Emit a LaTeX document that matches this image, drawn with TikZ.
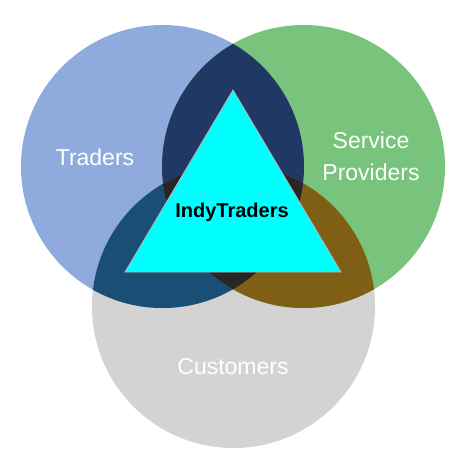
\documentclass[tikz,border=0pt]{standalone}
\usepackage{fontspec}
\setmainfont{Liberation Sans}
\definecolor{trblue}{HTML}{8FAADC}
\definecolor{spgreen}{HTML}{78C47C}
\definecolor{cugrey}{HTML}{D3D3D3}
\definecolor{tsnavy}{HTML}{203864}
\definecolor{tcblue}{HTML}{1B4E75}
\definecolor{scbrown}{HTML}{7F5F14}
\definecolor{allgrey}{HTML}{262626}
\definecolor{tricyan}{HTML}{00FFFF}
\definecolor{triedge}{HTML}{B4B4B4}
\tikzset{
  lbl/.style={text=white, font=\fontsize{23}{32}\selectfont, align=center, inner sep=0pt},
  core/.style={text=black, font=\bfseries\fontsize{20}{24}\selectfont, inner sep=0pt},
  rad/.style={radius=141.5pt}
}
\begin{document}
\begin{tikzpicture}[x=1pt,y=-1pt]
\useasboundingbox (0,0) rectangle (470,466);
\coordinate (T) at (162.5,166.5);
\coordinate (S) at (303.5,166.5);
\coordinate (C) at (233.5,306.5);
% single circles
\fill[cugrey, rad] (C) circle;
\fill[trblue, rad] (T) circle;
\fill[spgreen, rad] (S) circle;
% pairwise intersections
\begin{scope}
  \clip[rad] (T) circle;
  \fill[tsnavy, rad] (S) circle;
  \fill[tcblue, rad] (C) circle;
\end{scope}
\begin{scope}
  \clip[rad] (S) circle;
  \fill[scbrown, rad] (C) circle;
\end{scope}
% triple intersection
\begin{scope}
  \clip[rad] (T) circle;
  \clip[rad] (S) circle;
  \fill[allgrey, rad] (C) circle;
\end{scope}
% triangle
\coordinate (A) at (233,90);
\coordinate (B) at (125,272);
\coordinate (D) at (341,272);
\filldraw[fill=tricyan, draw=triedge, line width=0.8pt, line join=miter] (A) -- (B) -- (D) -- cycle;
% labels
\node[lbl] (traders) at (95,157) {Traders};
\node[lbl] (service) at (371,156) {Service\\Providers};
\node[lbl] (customers) at (233,367) {Customers};
\node[core] (indy) at (232,212) {IndyTraders};
\end{tikzpicture}
\end{document}
